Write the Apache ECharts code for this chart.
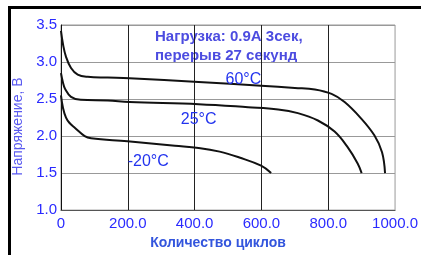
<!DOCTYPE html>
<html><head><meta charset="utf-8">
<script src="https://cdn.jsdelivr.net/npm/echarts@6/dist/echarts.min.js"></script>
<style>html,body{margin:0;padding:0;background:#fff}#c{width:421px;height:255px}</style>
</head><body><div id="c"></div>
<script>
const xTicks = [0, 200, 400, 600, 800, 1000];
const yTicks = [1.0, 1.5, 2.0, 2.5, 3.0, 3.5];
const curve60 = [[0,3.42],[6,3.24],[15,3.07],[30,2.92],[50,2.83],[80,2.80],[140,2.79],[205,2.78],[412,2.73],[599,2.68],[700,2.65],[760,2.63],[810,2.57],[849,2.46],[896,2.25],[938,2.01],[961,1.78],[970,1.50]];
const curve25 = [[0,2.85],[6,2.72],[12,2.64],[30,2.53],[59,2.49],[140,2.48],[205,2.46],[412,2.43],[560,2.39],[650,2.36],[709,2.31],[769,2.21],[819,2.06],[858,1.85],[888,1.63],[900,1.50]];
const curveM20 = [[0,2.55],[6,2.38],[15,2.25],[25,2.18],[42,2.11],[71,2.00],[90,1.97],[199,1.93],[341,1.87],[412,1.84],[475,1.79],[534,1.71],[599,1.60],[629,1.50]];
const seriesNames = ['60°C','25°C','-20°C'];
const labelPos = [[546,2.765],[412,2.22],[261,1.66]];
const noteLines = ['Нагрузка: 0.9A 3сек,','перерыв 27 секунд'];

const chart = echarts.init(document.getElementById('c'), null, {renderer:'canvas'});
const lineSeries = (name, data, lbl) => ({
  type:'line', name, data, symbol:'none', smooth:0.4,
  lineStyle:{color:'#111', width:2}, z:3,
  markPoint:{symbol:'rect', symbolSize:1, itemStyle:{color:'rgba(0,0,0,0)'},
    label:{show:true, position:'inside', formatter:name, color:'#2233ee', fontSize:16, fontFamily:'Liberation Sans'},
    data:[{coord:lbl}]}
});
chart.setOption({
  animation:false,
  grid:{left:61, right:23, top:25, bottom:36, show:true, borderColor:'#999', borderWidth:1},
  xAxis:{type:'value', min:0, max:1000, interval:200,
    axisLine:{show:true, lineStyle:{color:'#555', width:1}}, axisTick:{show:false},
    axisLabel:{color:'#2a2aff', fontSize:15, fontFamily:'Liberation Sans', margin:6,
      formatter:v=> v===0 ? '0' : v.toFixed(1)},
    splitLine:{show:true, showMinLine:false, showMaxLine:false, lineStyle:{color:'#222', width:1}},
    name:'Количество циклов', nameLocation:'middle', nameGap:23,
    nameTextStyle:{color:'#3355dd', fontSize:14, fontWeight:'bold', fontFamily:'Liberation Sans', padding:[0,20,0,0]}},
  yAxis:{type:'value', min:1, max:3.5, interval:0.5,
    axisLine:{show:true, lineStyle:{color:'#111', width:1}}, axisTick:{show:false},
    axisLabel:{color:'#2a2aff', fontSize:15, fontFamily:'Liberation Sans', margin:4,
      formatter:v=> v.toFixed(1)},
    splitLine:{show:true, lineStyle:{color:'#999', width:1}},
    name:'Напряжение, В', nameLocation:'middle', nameGap:33, nameRotate:90,
    nameTextStyle:{color:'#5a5af0', fontSize:14, fontFamily:'Liberation Sans', padding:[0,18,0,0]}},
  series:[lineSeries(seriesNames[0], curve60, labelPos[0]),
          lineSeries(seriesNames[1], curve25, labelPos[1]),
          lineSeries(seriesNames[2], curveM20, labelPos[2])],
  graphic:[
    {type:'rect', shape:{x:8, y:6, width:413, height:3}, style:{fill:'#000'}},
    {type:'rect', shape:{x:8, y:6, width:3, height:249}, style:{fill:'#000'}},
    {type:'text', left:155, top:27, style:{text:noteLines.join('\n'), fill:'#4c4ce0', font:'bold 15px "Liberation Sans"', lineHeight:19}}
  ]
});
</script></body></html>
